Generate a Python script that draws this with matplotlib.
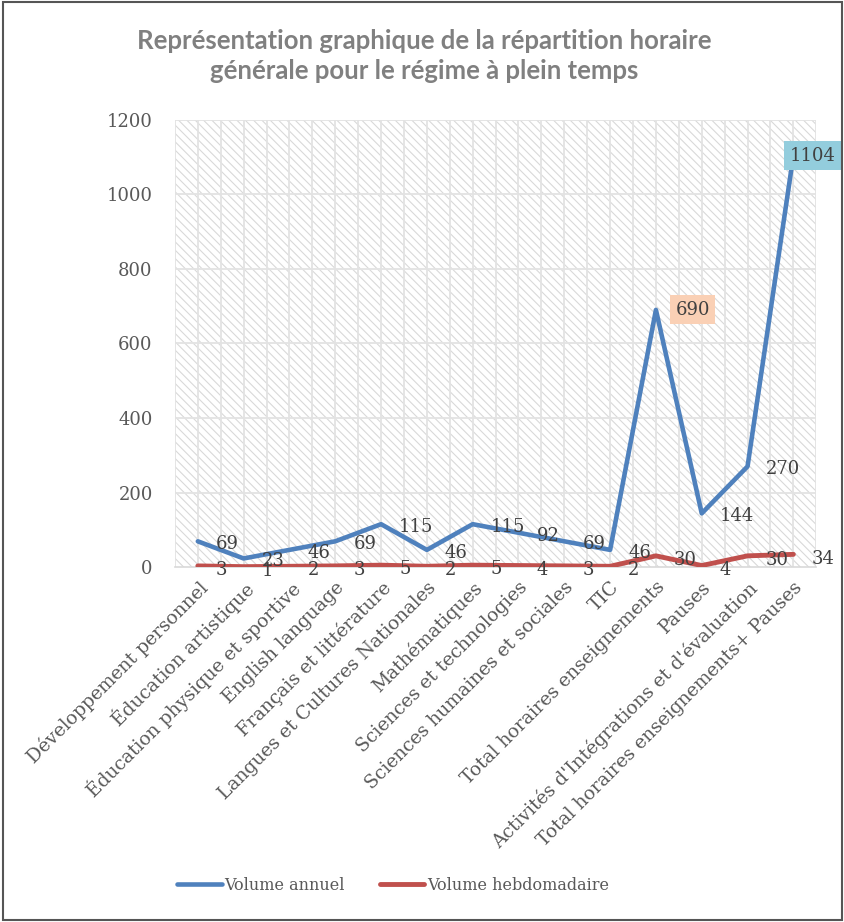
import matplotlib
matplotlib.use("Agg")
import matplotlib.pyplot as plt
from matplotlib.patches import Rectangle
import numpy as np

categories = [
    "Développement personnel",
    "Éducation artistique",
    "Éducation physique et sportive",
    "English language",
    "Français et littérature",
    "Langues et Cultures Nationales",
    "Mathématiques",
    "Sciences et technologies",
    "Sciences humaines et sociales",
    "TIC",
    "Total horaires enseignements",
    "Pauses",
    "Activités d'Intégrations et d'évaluation",
    "Total horaires enseignements+ Pauses",
]
volume_annuel = [69, 23, 46, 69, 115, 46, 115, 92, 69, 46, 690, 144, 270, 1104]
volume_hebdo = [3, 1, 2, 3, 5, 2, 5, 4, 3, 2, 30, 4, 30, 34]
yticks = [0, 200, 400, 600, 800, 1000, 1200]

blue = "#4F81BD"
red = "#C0504D"
txt = "#595959"
serif = "DejaVu Serif"

plt.rcParams["hatch.linewidth"] = 0.8
plt.rcParams["hatch.color"] = "#d9d9d9"

fig = plt.figure(figsize=(8.45, 9.22), dpi=100)
ax = fig.add_axes([0.207, 0.385, 0.759, 0.485])

x = np.arange(len(categories))
ax.set_xlim(-0.5, len(categories) - 0.5)
ax.set_ylim(0, 1200)

# hatched background
ax.add_patch(Rectangle((0, 0), 1, 1, transform=ax.transAxes, hatch="\\\\\\\\",
                       fill=False, edgecolor="#d9d9d9", lw=0, zorder=0))
for yv in yticks[1:]:
    ax.axhline(yv, color="#e3e3e3", lw=1.3, zorder=1)
for xv in np.arange(-0.5, len(categories), 0.5):
    ax.axvline(xv, color="#e3e3e3", lw=1.3, zorder=1)

ax.plot(x, volume_annuel, color=blue, lw=3.3, solid_capstyle="round", zorder=3,
        label="Volume annuel")
ax.plot(x, volume_hebdo, color=red, lw=3.5, solid_capstyle="round", zorder=3,
        label="Volume hebdomadaire")

lab = dict(fontsize=13, family=serif, color="#404040", zorder=5)
for i, v in enumerate(volume_annuel):
    if v == 690:
        ax.annotate(str(v), (x[i], v), xytext=(14, 0), textcoords="offset points",
                    ha="left", va="center",
                    bbox=dict(boxstyle="square,pad=0.3", fc="#FAD0B5", ec="none"), **lab)
    elif v == 1104:
        ax.annotate(str(v), (x[i], v), xytext=(14, 0), textcoords="offset points",
                    ha="center", va="center", annotation_clip=False,
                    bbox=dict(boxstyle="square,pad=0.3", fc="#93CDDD", ec="none"), **lab)
    else:
        ax.annotate(str(v), (x[i], v), xytext=(13, -2), textcoords="offset points",
                    ha="left", va="center", **lab)

for i, v in enumerate(volume_hebdo):
    ax.annotate(str(v), (x[i], v), xytext=(13, -3), textcoords="offset points",
                ha="left", va="center", annotation_clip=False, **lab)

ax.set_yticks(yticks)
ax.set_yticklabels([str(t) for t in yticks], family=serif, fontsize=13, color=txt)
ax.set_xticks(x)
ax.set_xticklabels(categories, rotation=45, ha="right", rotation_mode="anchor",
                   family=serif, fontsize=13.5, color=txt)
ax.tick_params(axis="both", length=0)
ax.tick_params(axis="y", pad=16)
ax.tick_params(axis="x", pad=8)
for s in ["top", "right", "left"]:
    ax.spines[s].set_visible(False)
ax.spines["bottom"].set_color("#d9d9d9")
ax.spines["bottom"].set_linewidth(1.2)

fig.text(0.502, 0.939, "Représentation graphique de la répartition horaire\ngénérale pour le régime à plein temps",
         ha="center", va="center", fontsize=18.5, fontweight="bold", color="#808080",
         family="Lato", linespacing=1.3)

fig.legend(loc="center", bbox_to_anchor=(0.465, 0.04), ncol=2, frameon=False,
           prop={"family": serif, "size": 11.5}, labelcolor=txt, handlelength=2.8,
           handletextpad=0.15, columnspacing=2.2)

fig.patches.append(Rectangle((0.004, 0.002), 0.992, 0.996, transform=fig.transFigure,
                             fill=False, edgecolor="#555555", lw=1.5))

fig.savefig("out.png", dpi=100)
